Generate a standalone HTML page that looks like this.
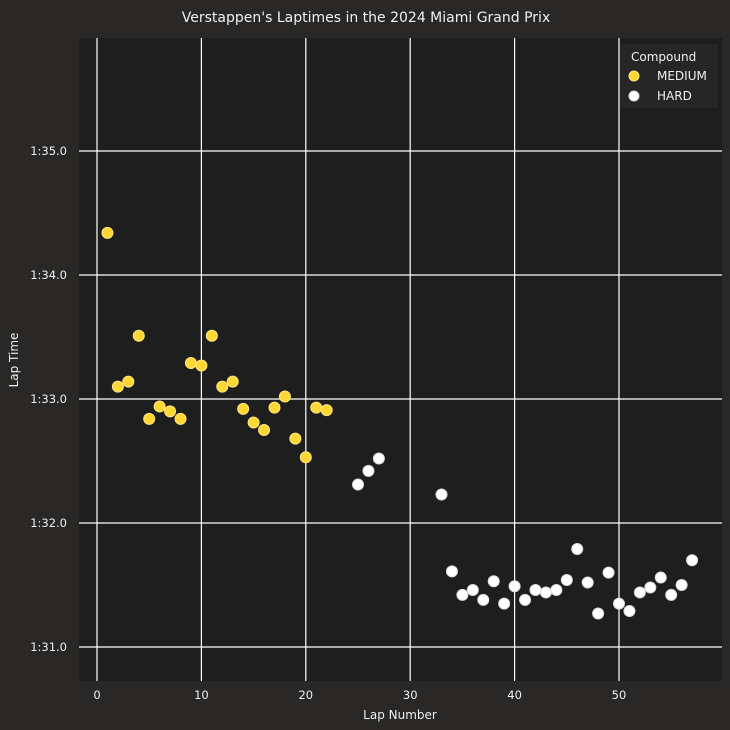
<!DOCTYPE html>
<html><head><meta charset="utf-8"><style>
body{margin:0;background:#292826;}
svg{display:block;font-family:"DejaVu Sans","Liberation Sans",sans-serif;}
</style></head><body>
<svg id="c" width="730" height="730">
<rect x="0" y="0" width="730" height="730" fill="#292826"/>
<text x="366" y="22" fill="#f0f0f0" font-size="14" text-anchor="middle">Verstappen's Laptimes in the 2024 Miami Grand Prix</text>
<rect x="79" y="38" width="643" height="643" fill="#1e1e1e"/>
<g id="grid"></g>
<g id="marks"></g>
<text x="400" y="719" fill="#f0f0f0" font-size="12" text-anchor="middle">Lap Number</text>
<text x="18" y="360" fill="#f0f0f0" font-size="12" text-anchor="middle" transform="rotate(-90 18 360)">Lap Time</text>
<g>
<rect x="620" y="44" width="98" height="64" fill="#262626"/>
<text x="631" y="61" fill="#f0f0f0" font-size="12">Compound</text>
<circle cx="634" cy="76" r="5" fill="#fdd835" stroke="#ffe680"/>
<text x="657" y="80" fill="#f0f0f0" font-size="12">MEDIUM</text>
<circle cx="634" cy="96" r="5" fill="#ffffff" stroke="#ddd"/>
<text x="657" y="100" fill="#f0f0f0" font-size="12">HARD</text>
</g>
</svg>
<script>
const mediumLaps=[1,2,3,4,5,6,7,8,9,10,11,12,13,14,15,16,17,18,19,20,21,22];
const mediumTimes=[94.34,93.10,93.14,93.51,92.84,92.94,92.90,92.84,93.29,93.27,93.51,93.10,93.14,92.92,92.81,92.75,92.93,93.02,92.68,92.53,92.93,92.91];
const hardLaps=[25,26,27,33,34,35,36,37,38,39,40,41,42,43,44,45,46,47,48,49,50,51,52,53,54,55,56,57];
const hardTimes=[92.31,92.42,92.52,92.23,91.61,91.42,91.46,91.38,91.53,91.35,91.49,91.38,91.46,91.44,91.46,91.54,91.79,91.52,91.27,91.60,91.35,91.29,91.44,91.48,91.56,91.42,91.50,91.70];
const xTicks=[0,10,20,30,40,50];
const yTicks=[91,92,93,94,95];
const yTickLabels=["1:31.0","1:32.0","1:33.0","1:34.0","1:35.0"];
const NS='http://www.w3.org/2000/svg';
const xs=v=>97+v*10.44;
const ys=v=>151+(95-v)*124;
const grid=document.getElementById('grid'),marks=document.getElementById('marks');
function mk(tag,attrs,parent){const e=document.createElementNS(NS,tag);for(const k in attrs)e.setAttribute(k,attrs[k]);parent.appendChild(e);return e;}
xTicks.forEach(t=>{
 const l=mk('line',{x1:xs(t),x2:xs(t),y1:38,y2:681,stroke:'#ffffff','stroke-width':1.2},grid);
 
 
 const tx=mk('text',{x:xs(t),y:699,fill:'#f0f0f0','font-size':11.5,'text-anchor':'middle'},grid);
 tx.textContent=t;
 
 
});
yTicks.forEach((t,i)=>{
 const l=mk('line',{x1:79,x2:722,y1:ys(t),y2:ys(t),stroke:'#ffffff','stroke-width':1.2},grid);
 
 
 const tx=mk('text',{x:67,y:ys(t)+4,fill:'#f0f0f0','font-size':11.5,'text-anchor':'end'},grid);
 tx.textContent=yTickLabels[i];
 
 
});
mediumLaps.forEach((lap,i)=>{
 const c=mk('circle',{cx:xs(lap),cy:ys(mediumTimes[i]),r:5.5,fill:'#fdd835',stroke:'#ffe680','stroke-width':1},marks);
 
 
});
hardLaps.forEach((lap,i)=>{
 const c=mk('circle',{cx:xs(lap),cy:ys(hardTimes[i]),r:5.5,fill:'#ffffff',stroke:'#dddddd','stroke-width':1},marks);
 
 
});
</script>
</body></html>
